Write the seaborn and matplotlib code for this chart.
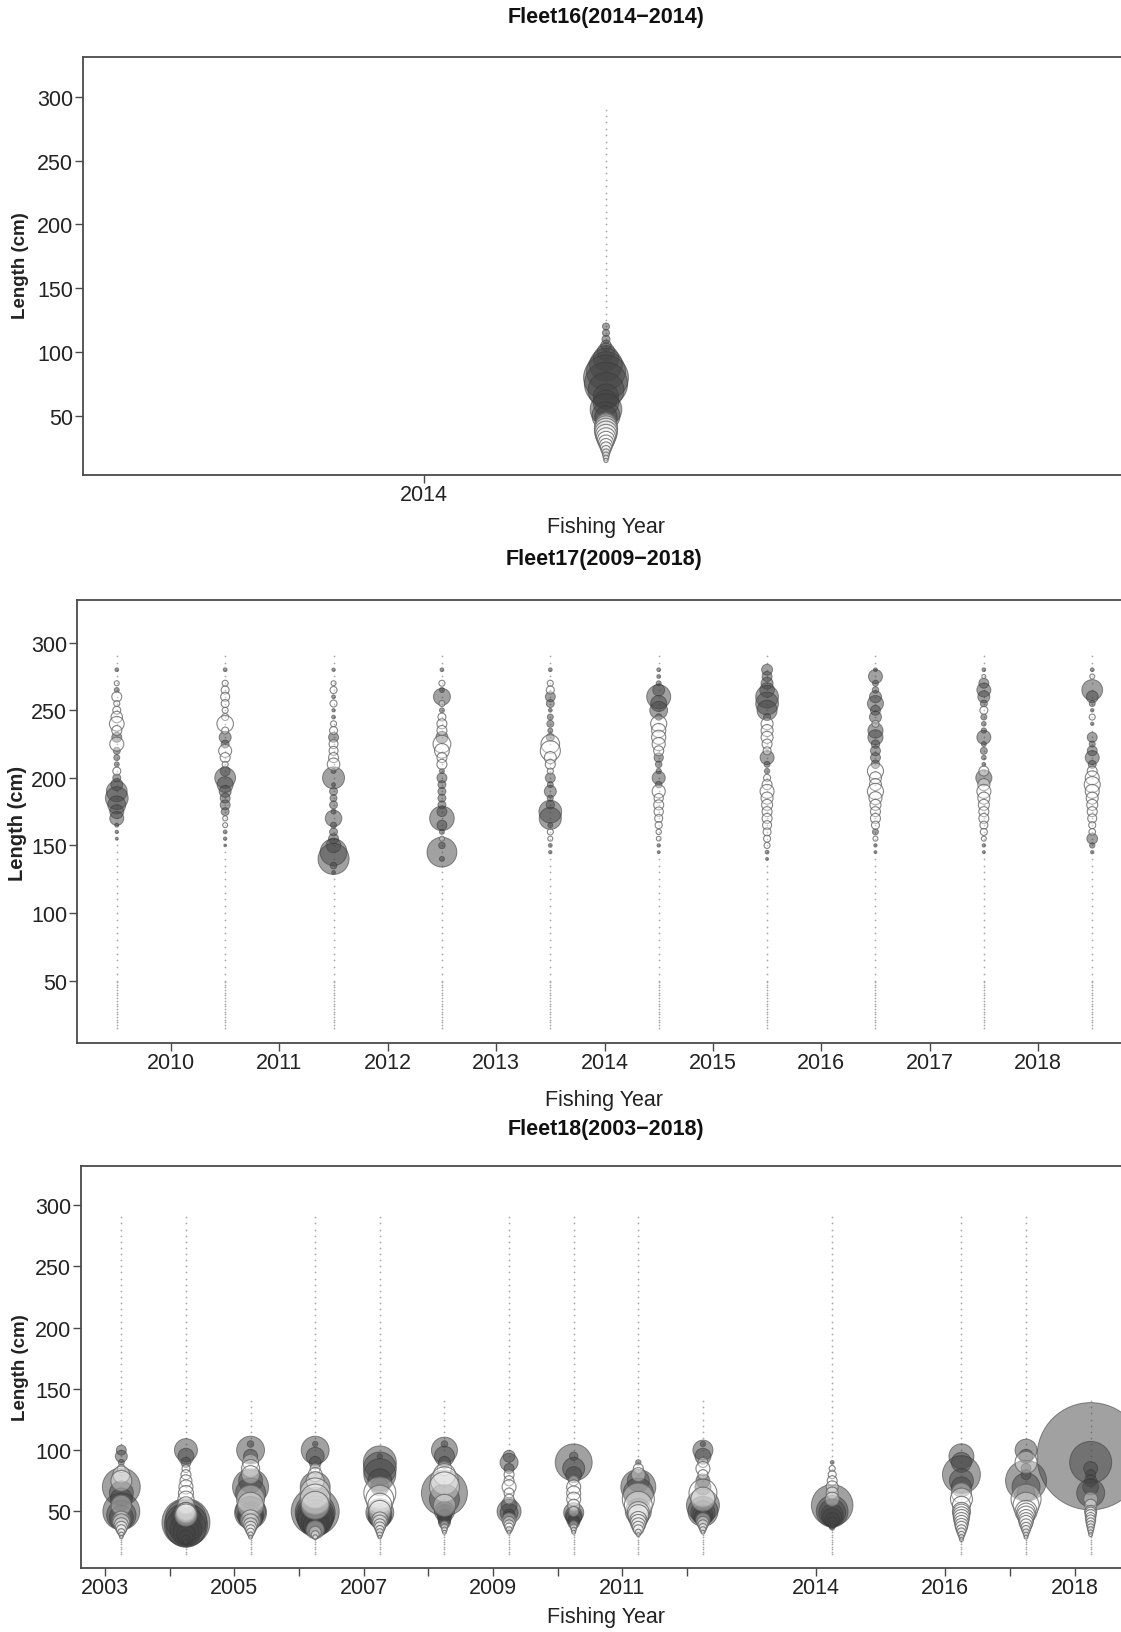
import pandas as pd
import matplotlib.pyplot as plt
import seaborn as sns

# ---------------------------------------
# Data: residual bubbles by length bin (cm) and fishing year
# (length, residual) pairs; bins not listed are ~0
# ---------------------------------------
len_bins = list(range(15, 50, 2)) + list(range(50, 295, 5))

f16_resid = {
    2014: [(120, 0.35), (115, 0.35), (110, 0.45), (105, 0.8), (100, 2.2), (95, 4.5), (90, 7.5),
           (85, 10.5), (80, 14.0), (75, 13.0), (70, 9.0), (65, 4.5), (60, 4.5), (55, 7.0), (50, 5.5),
           (49, 3.5), (47, 1.5), (45, -2.5), (43, -3.2), (41, -3.6), (39, -3.7), (37, -3.5),
           (35, -3.1), (33, -2.6), (31, -2.1), (29, -1.6), (27, -1.2), (25, -0.9), (23, -0.6),
           (21, -0.4), (19, -0.3), (17, -0.2), (15, -0.12)],
}

f17_resid = {
    2009: [(280, 0.1), (270, -0.17), (265, 0.17), (260, -0.69), (255, -0.25), (250, -0.44),
           (245, -0.9), (240, -1.5), (235, -0.69), (230, 0.69), (225, -1.36), (220, 0.34),
           (215, 0.25), (210, 0.17), (205, -0.44), (200, 0.44), (195, 1.0), (190, 3.0),
           (185, 3.6), (180, 2.25), (175, 1.36), (170, 1.36), (165, 0.11), (160, 0.08), (155, 0.06)],
    2010: [(280, 0.1), (270, -0.25), (265, -0.44), (260, -0.56), (255, -0.44), (250, -0.25),
           (245, -0.34), (240, -1.9), (235, -0.34), (230, 1.0), (225, 0.44), (220, -1.17),
           (215, -0.69), (210, -0.25), (205, 0.69), (200, 3.0), (195, 1.78), (190, 1.0),
           (185, 0.69), (180, 0.69), (175, 0.44), (170, -0.17), (165, -0.17), (160, 0.1),
           (155, 0.08), (150, 0.05)],
    2011: [(280, 0.08), (270, -0.17), (265, -0.34), (260, 0.1), (255, -0.34), (250, 0.08),
           (245, 0.1), (240, -0.25), (235, -0.44), (230, 0.69), (225, -0.56), (220, -0.56),
           (215, -0.69), (210, -1.1), (205, 0.17), (200, 3.36), (195, 0.1), (190, 0.44),
           (185, 0.34), (180, 0.44), (175, 0.17), (170, 1.9), (165, 0.25), (160, 0.44),
           (155, 0.69), (150, 1.5), (145, 5.0), (140, 6.7), (135, 0.3), (130, 0.1)],
    2012: [(280, 0.1), (270, -0.25), (265, 0.17), (260, 2.0), (255, -0.25), (250, 0.17),
           (245, -0.44), (240, -0.69), (235, -0.69), (230, 1.0), (225, -2.2), (220, -1.5),
           (215, -0.69), (210, -0.69), (205, 0.17), (200, 0.69), (195, 0.44), (190, 0.44),
           (185, 0.44), (180, 0.44), (175, 0.69), (170, 4.2), (165, 0.69), (160, 0.17),
           (155, -0.17), (150, 0.3), (145, 6.2), (140, 0.17)],
    2013: [(280, 0.1), (270, -0.25), (265, -0.44), (260, 0.69), (255, 0.44), (250, 0.1),
           (245, 0.25), (240, 0.34), (235, 0.17), (230, 0.44), (225, -2.4), (220, -2.8),
           (215, -1.0), (210, -0.69), (205, -0.25), (200, 0.69), (195, 0.25), (190, 1.0),
           (185, 0.25), (180, 0.5), (175, 3.6), (170, 3.4), (165, 0.17), (160, -0.25),
           (155, -0.17), (150, 0.1), (145, 0.08)],
    2014: [(280, 0.1), (275, 0.1), (270, 0.17), (265, 1.0), (260, 4.0), (255, 1.8), (250, 2.2),
           (245, 0.3), (240, -1.8), (235, -1.4), (230, -1.4), (225, -1.2), (220, -0.7),
           (215, 0.6), (210, 0.3), (205, 0.2), (200, 1.2), (195, 0.3), (190, -1.2), (185, -0.6),
           (180, -0.7), (175, -0.6), (170, -0.45), (165, -0.35), (160, -0.2), (155, -0.15),
           (150, 0.08), (145, 0.06)],
    2015: [(280, 0.84), (275, 0.7), (270, 1.0), (265, 1.5), (260, 3.6), (255, 3.6), (250, 2.8),
           (245, 0.34), (240, -1.0), (235, -1.0), (230, -1.0), (225, -0.69), (220, -0.44),
           (215, 1.36), (210, 0.25), (205, 0.2), (200, -0.34), (195, -0.69), (190, -1.36),
           (185, -1.0), (180, -0.84), (175, -0.69), (170, -0.69), (165, -0.56), (160, -0.44),
           (155, -0.34), (150, -0.25), (145, 0.1), (140, 0.06)],
    2016: [(280, 0.1), (275, 1.36), (270, 0.25), (265, 0.3), (260, 1.0), (255, 1.78), (250, 0.69),
           (245, 1.0), (240, -0.34), (235, 1.6), (230, 1.6), (225, 0.5), (220, 0.69), (215, 0.69),
           (210, 0.5), (205, -1.78), (200, -1.0), (195, -1.0), (190, -1.8), (185, -1.17),
           (180, -0.84), (175, -0.69), (170, -0.69), (165, -0.44), (160, 0.25), (155, -0.17),
           (150, 0.08), (145, 0.06)],
    2017: [(280, 0.1), (275, -0.11), (270, 0.69), (265, 1.36), (260, 1.0), (255, 0.34),
           (250, -0.44), (245, 0.25), (240, 0.15), (235, 0.2), (230, 1.36), (225, 0.17),
           (220, 0.34), (215, 0.15), (210, 0.1), (205, -0.69), (200, 1.8), (195, -1.0),
           (190, -1.36), (185, -1.0), (180, -0.84), (175, -0.69), (170, -0.69), (165, -0.44),
           (160, -0.34), (155, -0.17), (150, 0.08), (145, 0.06)],
    2018: [(280, 0.1), (275, -0.17), (265, 3.0), (260, 1.0), (255, 0.25), (250, 0.08),
           (245, -0.25), (240, 0.08), (230, 0.69), (225, 0.25), (220, 0.69), (215, 1.36),
           (210, 0.44), (205, -0.69), (200, -1.36), (195, -1.78), (190, -1.36), (185, -1.0),
           (180, -0.84), (175, -0.69), (170, -0.56), (165, -0.34), (160, -0.3), (155, 0.8),
           (150, 0.2), (145, 0.08)],
}

f18_resid = {
    2003: [(100, 0.69), (95, 1.0), (90, 0.25), (85, -0.44), (80, -2.0), (75, -3.0), (70, 10.0),
           (65, 4.0), (60, 3.4), (55, -2.8), (50, 9.5), (47, 6.0), (45, 4.0), (43, -2.2),
           (41, -2.0), (39, -1.4), (37, -1.0), (35, -0.7), (33, -0.35), (31, -0.17), (29, -0.08)],
    2004: [(100, 3.67), (95, 1.78), (90, 0.69), (85, -0.44), (80, -0.69), (75, -1.0), (70, -1.36),
           (65, -1.56), (60, -1.78), (55, -2.0), (50, -2.25), (49, -2.8), (47, -3.4), (45, 6.25),
           (43, 12.0), (41, 16.0), (39, 13.0), (37, 11.1), (35, 7.0), (33, 4.7), (31, 2.5),
           (29, 1.36), (27, 0.5), (25, 0.2)],
    2005: [(105, 0.3), (100, 5.4), (95, 1.36), (90, -1.78), (85, -2.25), (80, -2.25), (75, 4.0),
           (70, 9.0), (65, 6.25), (60, -5.4), (55, -4.7), (50, 6.25), (49, 7.1), (47, 4.7),
           (45, 4.0), (43, -2.8), (41, -2.0), (39, -1.36), (37, -1.0), (35, -0.69), (33, -0.44),
           (31, -0.2), (29, -0.1)],
    2006: [(105, 0.2), (100, 5.4), (95, 2.25), (90, 1.0), (85, -0.69), (80, -1.36), (75, -2.25),
           (70, 6.25), (65, -6.25), (60, -6.25), (55, -5.4), (50, 16.0), (49, 11.1), (47, 10.0),
           (45, 9.0), (43, 8.0), (41, 5.4), (39, 4.0), (37, 2.25), (35, -2.25), (33, -1.0),
           (31, -0.44), (29, -0.15)],
    2007: [(95, 0.2), (90, 7.56), (85, 7.56), (80, 7.1), (75, 4.0), (70, 2.25), (65, -7.1),
           (60, -5.4), (55, -4.0), (50, -3.36), (49, 5.4), (47, 4.0), (45, 3.36), (43, -1.78),
           (41, -1.5), (39, -1.0), (37, -0.8), (35, -0.5), (33, -0.34), (31, -0.2), (29, -0.08)],
    2008: [(105, 0.3), (100, 4.7), (95, 2.8), (90, 1.0), (85, -1.36), (80, -3.36), (75, -5.4),
           (70, -6.25), (65, 14.7), (60, 6.25), (55, -3.36), (50, 2.8), (49, 1.78), (47, 1.0),
           (45, 1.36), (43, 1.0), (41, 1.0), (39, -0.44), (37, -0.3), (35, -0.2), (33, -0.1)],
    2009: [(95, 1.0), (90, 2.25), (85, 0.69), (80, -0.69), (75, -0.69), (70, -1.36), (65, -0.69),
           (60, -0.69), (55, 1.78), (50, 4.0), (49, 2.25), (47, 1.0), (45, 1.0), (43, -1.36),
           (41, -1.0), (39, -0.69), (37, -0.5), (35, -0.25), (33, -0.1)],
    2010: [(95, 0.5), (90, 9.5), (85, 3.36), (80, 1.78), (75, -0.69), (70, -1.36), (65, -1.36),
           (60, -1.36), (55, -1.0), (50, -0.69), (49, 2.8), (47, 2.0), (45, 1.78), (43, 1.0),
           (41, 1.0), (39, -0.44), (37, -0.3), (35, -0.17), (33, -0.1)],
    2011: [(90, 0.2), (85, -0.69), (80, -1.36), (75, 3.36), (70, 8.5), (65, 6.25), (60, -7.1),
           (55, -5.4), (50, 4.7), (49, -3.36), (47, -3.0), (45, 2.78), (43, -2.0), (41, -1.78),
           (39, -1.36), (37, -1.0), (35, -0.69), (33, -0.25), (31, -0.1)],
    2012: [(105, 0.2), (100, 2.8), (95, 1.78), (90, -0.69), (85, -1.36), (80, -0.69), (75, 1.36),
           (70, 1.78), (65, -5.4), (60, -4.0), (55, 7.56), (50, 6.25), (49, 4.0), (47, 2.78),
           (45, 2.0), (43, -1.36), (41, -1.0), (39, -0.69), (37, -0.4), (35, -0.25), (33, -0.1)],
    2014: [(90, 0.1), (85, -0.25), (80, -0.44), (75, -0.69), (70, -1.0), (65, -1.0), (60, -1.36),
           (55, 12.0), (50, 7.0), (49, 5.0), (47, 3.4), (45, 2.5), (43, 1.5), (41, 0.8),
           (39, 0.4), (37, 0.2)],
    2016: [(95, 4.34), (90, 2.78), (80, 10.0), (75, 4.0), (70, 2.78), (65, -2.78), (60, -3.36),
           (55, -2.25), (50, -2.25), (49, -2.0), (47, -1.9), (45, -1.78), (43, -1.56), (41, -1.36),
           (39, -1.17), (37, -1.0), (35, -0.69), (33, -0.5), (31, -0.3), (29, -0.17), (27, -0.1)],
    2017: [(100, 3.36), (95, 1.36), (90, -3.36), (85, 0.69), (80, 0.69), (75, 11.7), (70, 5.44),
           (65, 2.25), (60, -6.25), (55, -4.7), (50, -3.36), (49, -2.5), (47, -2.25), (45, -1.78),
           (43, -1.5), (41, -1.36), (39, -1.0), (37, -0.69), (35, -0.5), (33, -0.3), (31, -0.17),
           (29, -0.1)],
    2018: [(95, 80.0), (90, 12.25), (85, 1.36), (80, 0.69), (75, 1.0), (70, 1.78), (65, 5.44),
           (60, -1.36), (55, -1.0), (50, -1.0), (49, -0.84), (47, -0.84), (45, -0.69), (43, -0.69),
           (41, -0.56), (39, -0.44), (37, -0.34), (35, -0.25), (33, -0.15), (31, -0.1)],
}
f18_short_years = [2005, 2008, 2012, 2018]   # length bins only up to 140 cm

f18_ticks = [2003, 2004, 2005, 2006, 2007, 2008, 2009, 2010, 2011, 2012, 2014, 2016, 2017, 2018]
f18_labels = ["2003", "", "2005", "", "2007", "", "2009", "", "2011", "", "2014", "2016", "", "2018"]
f17_ticks = [2010, 2011, 2012, 2013, 2014, 2015, 2016, 2017, 2018]

# ---------------------------------------
# Style
# ---------------------------------------
sns.set_style("ticks")
plt.rcParams["font.family"] = ["Liberation Sans", "DejaVu Sans"]

W, H = 1121, 1633
R_MAX = 100.0
S_PER_UNIT = 74.6          # marker area (pt^2) per unit |residual|
SPINE = "#4a4a4a"


def build(resid, offset, short_years=()):
    dots, bubs = [], []
    for yr, pairs in resid.items():
        top = 140 if yr in short_years else 290
        for L in len_bins:
            if L <= top:
                dots.append({"x": yr + offset, "length": L})
        for L, r in pairs:
            bubs.append({"x": yr + offset, "length": L, "resid": r, "absr": abs(r)})
    return pd.DataFrame(dots), pd.DataFrame(bubs)


def draw(ax, dots, bubs):
    sns.scatterplot(data=dots, x="x", y="length", s=1.6, color="#a8a8a8",
                    linewidth=0, legend=False, ax=ax)
    pos = bubs[bubs["resid"] > 0]
    neg = bubs[bubs["resid"] < 0]
    sns.scatterplot(data=pos, x="x", y="length", size="absr",
                    sizes=(0, S_PER_UNIT * R_MAX), size_norm=(0, R_MAX),
                    color=(0.27, 0.27, 0.27, 0.5), edgecolor=(0.22, 0.22, 0.22, 0.55),
                    linewidth=0.7, legend=False, ax=ax)
    sns.scatterplot(data=neg, x="x", y="length", size="absr",
                    sizes=(0, S_PER_UNIT * R_MAX), size_norm=(0, R_MAX),
                    color=(1, 1, 1, 0.35), edgecolor=(0.4, 0.4, 0.4, 0.8),
                    linewidth=0.8, legend=False, ax=ax)


def make_axes(fig, left, top, bottom, width):
    return fig.add_axes([left / W, 1 - bottom / H, width / W, (bottom - top) / H])


def finish(ax, xlim, xticks, xlabels):
    ax.set_xlim(*xlim)
    ax.set_ylim(3.8, 331.6)
    ax.set_yticks([50, 100, 150, 200, 250, 300])
    ax.set_xticks(xticks)
    ax.set_xticklabels(xlabels)
    ax.set_xlabel("")
    ax.set_ylabel("")
    ax.tick_params(axis="both", direction="out", length=6, width=1, color=SPINE,
                   labelsize=15.5, labelcolor="#222222")
    ax.tick_params(axis="x", pad=0.5)
    ax.tick_params(axis="y", pad=1.0)
    for sp in ax.spines.values():
        sp.set_visible(True)
        sp.set_color(SPINE)
        sp.set_linewidth(1.3)


def labels(fig, title, cx, ty, xy, ylx, yly, ysize):
    fig.text(cx / W, 1 - ty / H, title, ha="center", va="center",
             fontsize=15.5, fontweight="bold", color="#111111")
    fig.text(cx / W, 1 - xy / H, "Fishing Year", ha="center", va="center",
             fontsize=15.5, color="#222222")
    fig.text(ylx / W, 1 - yly / H, "Length (cm)", ha="center", va="center",
             rotation=90, fontsize=ysize, fontweight="bold", color="#222222")


fig = plt.figure(figsize=(W / 100, H / 100), dpi=100)

# ---------------------------------------
# Fleet16
# ---------------------------------------
ax1 = make_axes(fig, 83, 57.6, 475.7, 1046)
d, b = build(f16_resid, 0.5)
draw(ax1, d, b)
finish(ax1, (2013.063, 2015.937), [2014], ["2014"])
labels(fig, "Fleet16(2014\u22122014)", 606, 18, 527, 21, 266, 13.5)

# ---------------------------------------
# Fleet17
# ---------------------------------------
ax2 = make_axes(fig, 77, 601, 1044, 1055)
d, b = build(f17_resid, 0.5)
draw(ax2, d, b)
finish(ax2, (2009.133, 2018.867), f17_ticks, [str(t) for t in f17_ticks])
labels(fig, "Fleet17(2009\u22122018)", 604, 560, 1101, 18, 823, 14.5)

# ---------------------------------------
# Fleet18
# ---------------------------------------
ax3 = make_axes(fig, 81, 1167.4, 1569, 1050)
d, b = build(f18_resid, 0.25, f18_short_years)
draw(ax3, d, b)
finish(ax3, (2002.626, 2018.874), f18_ticks, f18_labels)
labels(fig, "Fleet18(2003\u22122018)", 606, 1130, 1618, 21, 1368, 13.5)

fig.savefig("out.png", dpi=100)
